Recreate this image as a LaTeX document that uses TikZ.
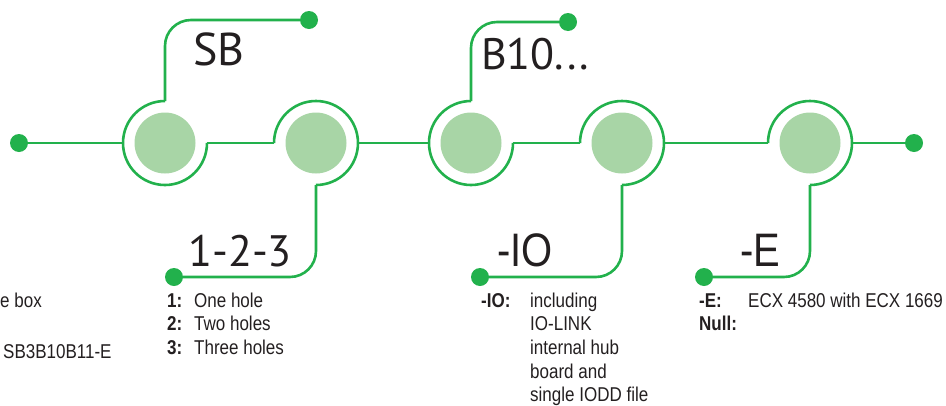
\documentclass[tikz,border=0pt]{standalone}
\usepackage{fontspec}
\setmainfont{Liberation Sans}
\newfontfamily\condf[FakeStretch=0.85]{Liberation Sans}
\newfontfamily\bigf{PT Sans}
\definecolor{gr}{HTML}{22B14C}
\definecolor{lgr}{HTML}{A8D5A6}
\definecolor{txt}{HTML}{231F20}
\begin{document}
\begin{tikzpicture}[x=1pt,y=1pt,
  ring/.style={circle,minimum size=84pt,inner sep=0pt,outer sep=0pt},
  core/.style={circle,fill=lgr,minimum size=61pt,inner sep=0pt},
  dot/.style={circle,fill=gr,minimum size=18pt,inner sep=0pt,outer sep=0pt},
  wire/.style={draw=gr,line width=2.6pt},
  corner/.style={wire,rounded corners=26pt},
  big/.style={font=\bigf\fontsize{46}{46}\selectfont,text=txt,inner sep=0pt,anchor=base west},
  bigc/.style={font=\condf\fontsize{47}{47}\selectfont,text=txt,inner sep=0pt,anchor=base west},
  desc/.style={font=\condf\fontsize{20}{23.7}\selectfont,text=txt,inner sep=0pt,anchor=base west}]
\useasboundingbox (0,0) rectangle (946,-405);
% rings and cores
\node[ring] (r1) at (165,-143) {};
\node[ring] (r2) at (316,-143) {};
\node[ring] (r3) at (471,-143) {};
\node[ring] (r4) at (622,-143) {};
\node[ring] (r5) at (810,-143) {};
\node[core] (c1) at (r1) {};
\node[core] (c2) at (r2) {};
\node[core] (c3) at (r3) {};
\node[core] (c4) at (r4) {};
\node[core] (c5) at (r5) {};
\draw[wire] (r1.north) arc[start angle=90,end angle=360,radius=42pt];
\draw[wire] (r2.west) arc[start angle=180,end angle=-90,radius=42pt];
\draw[wire] (r3.north) arc[start angle=90,end angle=360,radius=42pt];
\draw[wire] (r4.west) arc[start angle=180,end angle=-90,radius=42pt];
\draw[wire] (r5.west) arc[start angle=180,end angle=-90,radius=42pt];
% dots
\node[dot] (dl) at (19,-143) {};
\node[dot] (dr) at (914,-143) {};
\node[dot] (t1) at (309,-20) {};
\node[dot] (t2) at (568,-22) {};
\node[dot] (b1) at (174,-277) {};
\node[dot] (b2) at (480,-277) {};
\node[dot] (b3) at (704,-277) {};
% main line
\draw[wire] (dl) -- (r1.west);
\draw[wire] (r1.east) -- (r2.west);
\draw[wire] (r2.east) -- (r3.west);
\draw[wire] (r3.east) -- (r4.west);
\draw[wire] (r4.east) -- (r5.west);
\draw[wire] (r5.east) -- (dr);
% branches
\draw[corner] (r1.north) |- (t1);
\draw[corner] (r3.north) |- (t2);
\draw[corner] (r2.south) |- (b1);
\draw[corner] (r4.south) |- (b2);
\draw[corner] (r5.south) |- (b3);
% big labels
\node[big] (sb) at (193,-65) {SB};
\node[big,font=\bigf\fontsize{44}{44}\selectfont] (b10) at (481,-69) {B10...};
\node[big,font=\bigf\fontsize{44}{44}\selectfont] (n123) at (188,-266) {1-2-3};
\node[bigc] (io) at (497,-266) {-IO};
\node[bigc] (ee) at (740,-266) {-E};
% descriptions
\node[desc] (lb1) at (0,-307) {e box};
\node[desc] (lb2) at (3,-358) {SB3B10B11-E};
\node[desc] (holes) at (167,-307) {\begin{tabular}[t]{@{}p{27pt}@{}l@{}}\textbf{1:}&One hole\\ \textbf{2:}&Two holes\\ \textbf{3:}&Three holes\end{tabular}};
\node[desc] (iod) at (481,-307) {\begin{tabular}[t]{@{}p{49pt}@{}l@{}}\textbf{-IO:}&including\\ &IO-LINK\\ &internal hub\\ &board and\\ &single IODD file\end{tabular}};
\node[desc] (ed) at (699,-307) {\begin{tabular}[t]{@{}p{49pt}@{}l@{}}\textbf{-E:}&ECX 4580 with ECX 1669\\ \textbf{Null:}&\end{tabular}};
\end{tikzpicture}
\end{document}
